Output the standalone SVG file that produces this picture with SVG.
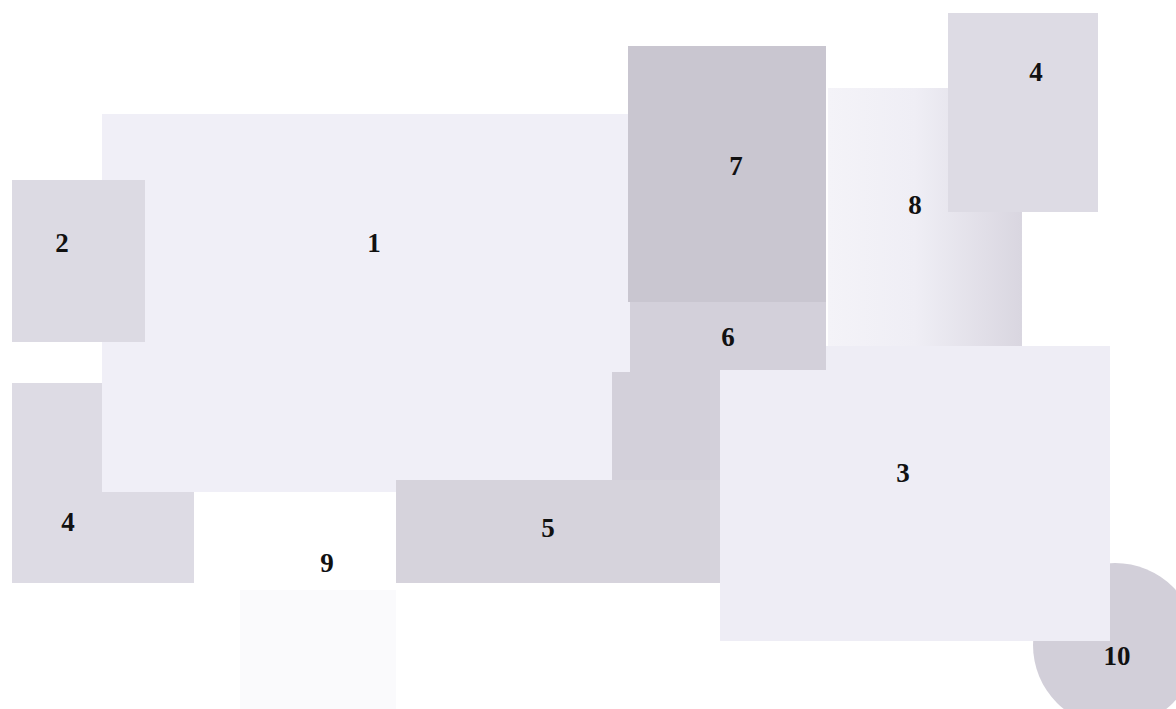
<svg xmlns="http://www.w3.org/2000/svg" width="1176" height="709" viewBox="0 0 1176 709">
<defs>
<style>
.lbl{font-family:"Liberation Serif","Times New Roman",serif;font-weight:bold;font-size:27px;fill:#111;text-anchor:middle;dominant-baseline:central}
</style>
<linearGradient id="g8" x1="0" y1="0" x2="1" y2="0">
<stop offset="0" stop-color="#f4f3f8"/>
<stop offset="0.45" stop-color="#efeef5"/>
<stop offset="1" stop-color="#d9d6e0"/>
</linearGradient>
</defs>
<rect width="1176" height="709" fill="#ffffff"/>
<g id="n9"><rect x="240" y="590" width="156" height="119" fill="#fafafc"/><text class="lbl" x="327" y="563">9</text></g>
<g id="n4b"><rect x="12" y="383" width="182" height="200" fill="#dddbe4"/></g>
<g id="n1"><rect x="102" y="114" width="528" height="378" fill="#f0eff7"/></g>
<g id="n2"><rect x="12" y="180" width="133" height="162" fill="#dcdae3"/><text class="lbl" x="62" y="243">2</text></g>
<g id="n7"><rect x="628" y="46" width="198" height="256" fill="#c9c6d0"/><text class="lbl" x="736" y="166">7</text></g>
<g id="n8"><rect x="828" y="88" width="194" height="258" fill="url(#g8)"/></g>
<g id="n4t"><rect x="948" y="13" width="150" height="199" fill="#dddbe4"/><text class="lbl" x="1036" y="72">4</text></g>
<g id="n10"><circle cx="1115" cy="645" r="82" fill="#d2cfd9"/></g>
<g id="n3"><rect x="720" y="346" width="390" height="295" fill="#eeedf5"/><text class="lbl" x="903" y="473">3</text></g>
<g id="n6"><polygon points="630,302 826,302 826,370 720,370 720,480 612,480 612,372 630,372" fill="#d3d0da"/><text class="lbl" x="728" y="337">6</text></g>
<g id="n5"><rect x="396" y="480" width="324" height="103" fill="#d6d3dc"/><text class="lbl" x="548" y="528">5</text></g>
<g id="labels">
<text class="lbl" x="374" y="243">1</text>
<text class="lbl" x="68" y="522">4</text>
<text class="lbl" x="915" y="205">8</text>
<text class="lbl" x="1117" y="656">10</text>
</g>
<g id="connectors"/>
</svg>
